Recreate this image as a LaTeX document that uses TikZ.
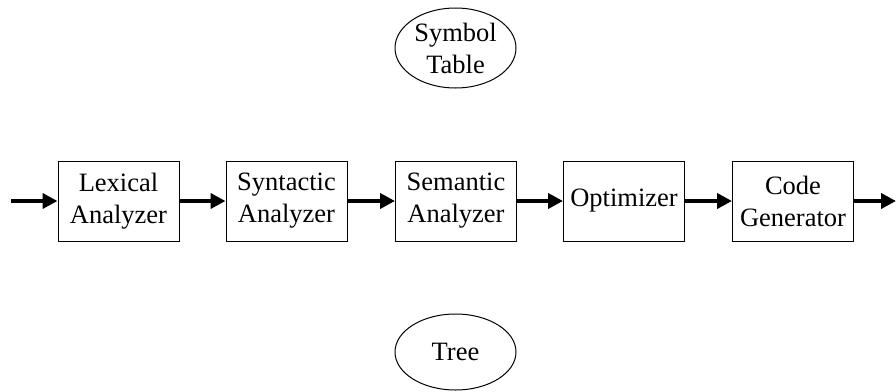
\documentclass[tikz,border=0pt]{standalone}
\usepackage{fontspec}
\setmainfont{Liberation Serif}
\usetikzlibrary{shapes.geometric,arrows.meta}
\begin{document}
\begin{tikzpicture}[x=1pt,y=-1pt,
  phase/.style={draw,line width=1pt,minimum width=121pt,minimum height=80pt,
    inner sep=0pt,align=center,font=\fontsize{26.5}{32}\selectfont},
  store/.style={draw,ellipse,line width=1pt,minimum width=121pt,minimum height=80pt,
    inner sep=0pt,align=center,font=\fontsize{26.5}{32}\selectfont},
  flow/.style={line width=4pt,-{Triangle[length=15pt,width=15pt]}}]
\useasboundingbox (0,0) rectangle (896,391);
\node[store] (sym) at (455.5,48) {Symbol\\Table};
\node[store,minimum height=76pt] (tree) at (455.5,352) {Tree};
\node[phase] (lex) at (118.5,201) {Lexical\\Analyzer};
\node[phase] (syn) at (286.5,201) {Syntactic\\Analyzer};
\node[phase] (sem) at (456,201) {Semantic\\Analyzer};
\node[phase] (opt) at (624,201) {Optimizer};
\node[phase] (gen) at (793,201) {Code\\Generator};
\coordinate (in) at (11,201);
\coordinate (out) at (896,201);
\draw[flow] (in) -- (lex);
\draw[flow] (lex) -- (syn);
\draw[flow] (syn) -- (sem);
\draw[flow] (sem) -- (opt);
\draw[flow] (opt) -- (gen);
\draw[flow] (gen) -- (out);
\end{tikzpicture}
\end{document}
